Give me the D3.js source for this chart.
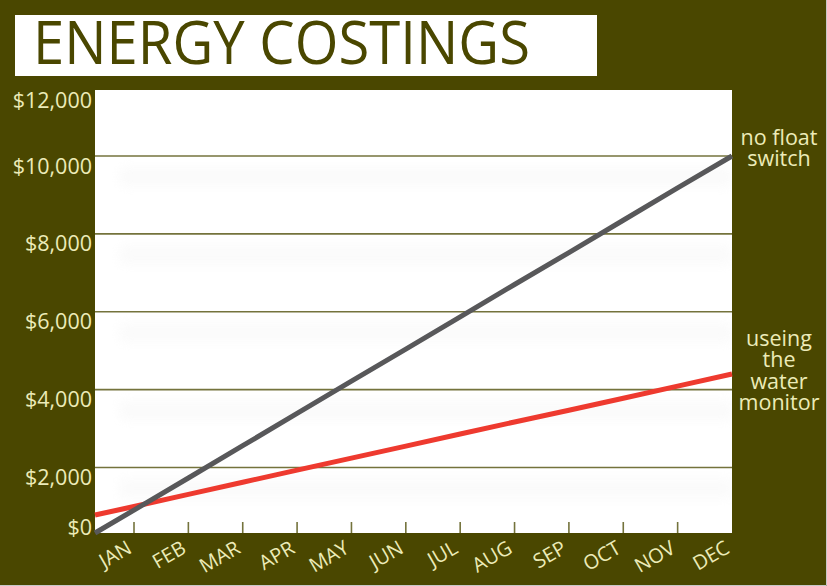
<!DOCTYPE html>
<html>
<head>
<meta charset="utf-8">
<script src="https://cdn.jsdelivr.net/npm/d3@7"></script>
<style>
  html, body { margin: 0; padding: 0; background: #4a4700; }
  svg { display: block; }
  text { font-family: "Open Sans", "Noto Sans", sans-serif; }
</style>
</head>
<body>
<div id="chart"></div>
<script>
// ---------------- data ----------------
const months = ["JAN", "FEB", "MAR", "APR", "MAY", "JUN", "JUL", "AUG", "SEP", "OCT", "NOV", "DEC"];
const yTicks = [0, 2000, 4000, 6000, 8000, 10000, 12000];
const noFloatStart = 0;
const noFloat = [700, 1680, 2560, 3390, 4220, 5040, 5870, 6700, 7520, 8350, 9180, 10000];
const monitorStart = 550;
const monitor = [810, 1180, 1550, 1920, 2240, 2550, 2860, 3170, 3470, 3780, 4090, 4400];
const seriesNames = [["no float", "switch"], ["useing", "the", "water", "monitor"]];

const W = 827, H = 586;
const olive = "#4a4700";
const cream = "#ecebb8";
const plot = { left: 95, right: 732, top: 90, bottom: 533 };

const svg = d3.select("#chart").append("svg")
  .attr("width", W)
  .attr("height", H);

svg.append("rect").attr("width", W).attr("height", H).attr("fill", olive);

// title
svg.append("rect")
  .attr("x", 15).attr("y", 15)
  .attr("width", 582).attr("height", 61)
  .attr("fill", "#fff");
svg.append("text")
  .attr("x", 33).attr("y", 64)
  .attr("font-size", 60)
  .attr("textLength", 497)
  .attr("lengthAdjust", "spacingAndGlyphs")
  .attr("fill", olive)
  .text("ENERGY COSTINGS");

// scales - the original axis is squashed below $2,000 and above $10,000
const y = d3.scaleLinear()
  .domain([0, 2000, 10000, 12000])
  .range([plot.bottom, 467.5, 156, plot.top]);
const x = d3.scaleLinear()
  .domain([0, months.length - 1])
  .range([134, plot.right]);
const x0 = x.invert(plot.left); // where the lines start

// plot background
svg.append("rect")
  .attr("x", plot.left).attr("y", plot.top)
  .attr("width", plot.right - plot.left)
  .attr("height", plot.bottom - plot.top)
  .attr("fill", "#fff");

// soft shadow bands under each gridline
const defs = svg.append("defs");
defs.append("filter").attr("id", "soft")
  .attr("x", "-10%").attr("y", "-100%").attr("width", "120%").attr("height", "300%")
  .append("feGaussianBlur").attr("stdDeviation", 6);
defs.append("clipPath").attr("id", "plotclip")
  .append("rect")
  .attr("x", plot.left).attr("y", plot.top)
  .attr("width", plot.right - plot.left)
  .attr("height", plot.bottom - plot.top);

const gridVals = yTicks.filter(d => d > 0 && d < 12000);
svg.append("g").attr("clip-path", "url(#plotclip)")
  .selectAll("rect")
  .data(gridVals)
  .enter().append("rect")
  .attr("x", plot.left + 25)
  .attr("y", d => y(d) + 12)
  .attr("width", plot.right - plot.left - 25)
  .attr("height", 18)
  .attr("fill", "#f4f4f4")
  .attr("opacity", 0.45)
  .attr("filter", "url(#soft)");

// gridlines
svg.append("g")
  .selectAll("line")
  .data(gridVals)
  .enter().append("line")
  .attr("x1", plot.left).attr("x2", plot.right)
  .attr("y1", d => y(d)).attr("y2", d => y(d))
  .attr("stroke", "#74733c")
  .attr("stroke-width", 1.6);

// x ticks
svg.append("g")
  .selectAll("line")
  .data(months.slice(0, -1))
  .enter().append("line")
  .attr("x1", (d, i) => x(i)).attr("x2", (d, i) => x(i))
  .attr("y1", plot.bottom - 11).attr("y2", plot.bottom)
  .attr("stroke", "#74733c")
  .attr("stroke-width", 1.6);

// y labels
svg.append("g")
  .selectAll("text")
  .data(yTicks)
  .enter().append("text")
  .attr("x", plot.left - 3)
  .attr("y", d => y(d) + (d === 0 ? -6 : 10))
  .attr("dy", "0.35em")
  .attr("text-anchor", "end")
  .attr("font-size", 21.5)
  .attr("fill", cream)
  .text(d => d3.format("$,")(d));

// x labels
svg.append("g")
  .selectAll("text")
  .data(months)
  .enter().append("text")
  .attr("transform", (d, i) => `translate(${x(i) - 1},${plot.bottom + 19}) rotate(-30)`)
  .attr("text-anchor", "end")
  .attr("font-size", 20)
  .attr("fill", cream)
  .text(d => d);

// lines
const line = d3.line().x(d => x(d.m)).y(d => y(d.v));
const toPoints = (start, vals) => [{ m: x0, v: start }].concat(vals.map((v, i) => ({ m: i, v: v })));
const series = [
  { pts: toPoints(noFloatStart, noFloat), color: "#58585a" },
  { pts: toPoints(monitorStart, monitor), color: "#ee3a2f" }
];
svg.append("g")
  .selectAll("path")
  .data(series.slice().reverse())
  .enter().append("path")
  .attr("d", d => line(d.pts))
  .attr("fill", "none")
  .attr("stroke", d => d.color)
  .attr("stroke-width", 5);

// series labels on the right
const labelY = [137, 338];
seriesNames.forEach((lines, s) => {
  svg.append("text")
    .attr("x", 779)
    .attr("y", labelY[s])
    .attr("text-anchor", "middle")
    .attr("font-size", 21.5)
    .attr("fill", cream)
    .selectAll("tspan")
    .data(lines)
    .enter().append("tspan")
    .attr("x", 779)
    .attr("dy", (d, i) => i === 0 ? "0.35em" : 21.5)
    .text(d => d);
});

// thin light edge on right and bottom
svg.append("path")
  .attr("d", `M${W - 0.5},0V${H - 0.5}H0`)
  .attr("fill", "none")
  .attr("stroke", "#c8c8c8");
</script>
</body>
</html>
